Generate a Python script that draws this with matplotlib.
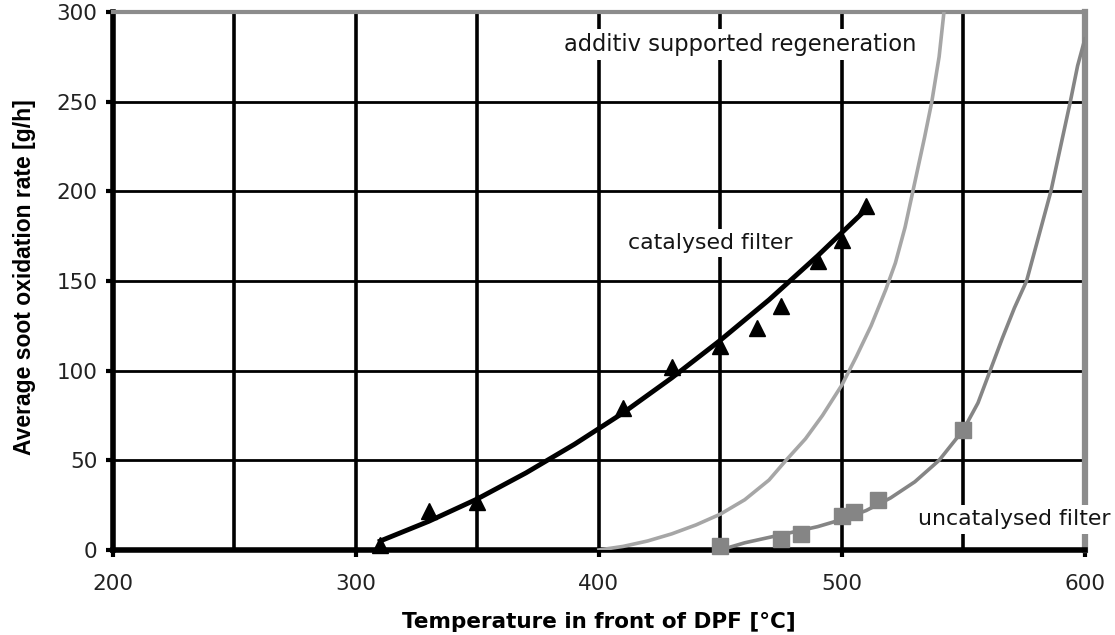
import matplotlib.pyplot as plt

plt.rcParams['font.family'] = ['DejaVu Sans']

# catalysed filter: measured points (triangles) and fitted trend line
cat_temp = [310, 330, 350, 410, 430, 450, 465, 475, 490, 500, 510]
cat_rate = [3, 22, 27, 79, 102, 114, 124, 136, 161, 173, 192]
cat_fit_temp = [310, 330, 350, 370, 390, 410, 430, 450, 470, 490, 510]
cat_fit_rate = [5, 16, 28.5, 43, 59, 76.5, 96, 117, 139.5, 164, 190]

# additiv supported regeneration (curve only)
add_temp = [400, 410, 420, 430, 440, 450, 460, 470, 477, 485, 492, 500, 506, 512,
            518, 522, 526, 530, 534, 537, 540, 542]
add_rate = [0, 2, 5, 9, 14, 20, 28, 39, 50, 62, 75, 92, 108, 125,
            145, 160, 180, 205, 230, 250, 275, 300]

# uncatalysed filter: measured points (squares) and fitted curve
unc_temp = [450, 475, 483, 500, 505, 515, 550]
unc_rate = [2, 6, 9, 19, 21, 28, 67]
unc_fit_temp = [450, 460, 470, 480, 490, 500, 510, 520, 530, 540, 550, 556, 561,
                566, 571, 576, 581, 586, 590, 594, 597, 600]
unc_fit_rate = [0, 4, 7, 10, 13, 17, 22, 29, 38, 50, 67, 82, 100,
                118, 135, 150, 175, 200, 225, 250, 270, 285]

x_ticks = [200, 300, 400, 500, 600]
y_ticks = [0, 50, 100, 150, 200, 250, 300]

fig = plt.figure(figsize=(11.15, 6.35), dpi=100)
ax = fig.add_axes([0.1013, 0.1339, 0.8717, 0.8472])

ax.set_xlim(200, 600)
ax.set_ylim(0, 300)
ax.set_xticks(x_ticks)
ax.set_yticks(y_ticks)

# grid
for t in [250, 300, 350, 400, 450, 500, 550]:
    ax.axvline(t, color='black', lw=2.6, zorder=1)
for v in [50, 100, 150, 200, 250]:
    ax.axhline(v, color='black', lw=2.0, zorder=1)

ax.plot(add_temp, add_rate, color='#a6a6a6', lw=2.6, zorder=3)
ax.plot(unc_fit_temp, unc_fit_rate, color='#858585', lw=2.6, zorder=3)
ax.plot(unc_temp, unc_rate, ls='none', marker='s', ms=11, color='#858585', zorder=4, clip_on=False)
ax.plot(cat_fit_temp, cat_fit_rate, color='black', lw=3.5, zorder=5)
ax.plot(cat_temp, cat_rate, ls='none', marker='^', ms=11.5, color='black', zorder=6, clip_on=False)

box = dict(facecolor='white', edgecolor='none', pad=3)
ax.text(458, 282, 'additiv supported regeneration', fontsize=16.3, color='#151515',
        ha='center', va='center', bbox=box, zorder=7)
ax.text(446, 171, 'catalysed filter', fontsize=15.8, color='#151515',
        ha='center', va='center', bbox=box, zorder=7)
ax.text(571, 17, 'uncatalysed filter', fontsize=15.8, color='#151515',
        ha='center', va='center', bbox=box, zorder=7, clip_on=False)

for s in ['left', 'bottom']:
    ax.spines[s].set_linewidth(4)
    ax.spines[s].set_color('black')
ax.spines['top'].set_color('#8c8c8c')
ax.spines['top'].set_linewidth(3)
ax.spines['right'].set_color('#8c8c8c')
ax.spines['right'].set_linewidth(4.5)

ax.tick_params(axis='both', direction='out', length=5, width=3, color='black',
               labelsize=15.5, labelcolor='#222222')
ax.tick_params(axis='x', pad=12)
ax.tick_params(axis='y', pad=6)

ax.set_xlabel('Temperature in front of DPF [°C]', fontsize=15.5, fontweight='bold', va='center')
ax.xaxis.set_label_coords(0.5, -0.134)
ax.set_ylabel('Average soot oxidation rate [g/h]', fontsize=16.5, fontweight='bold',
              family='Liberation Sans', va='center')
ax.yaxis.set_label_coords(-0.091, 0.507)

fig.savefig('out.png', dpi=100)
